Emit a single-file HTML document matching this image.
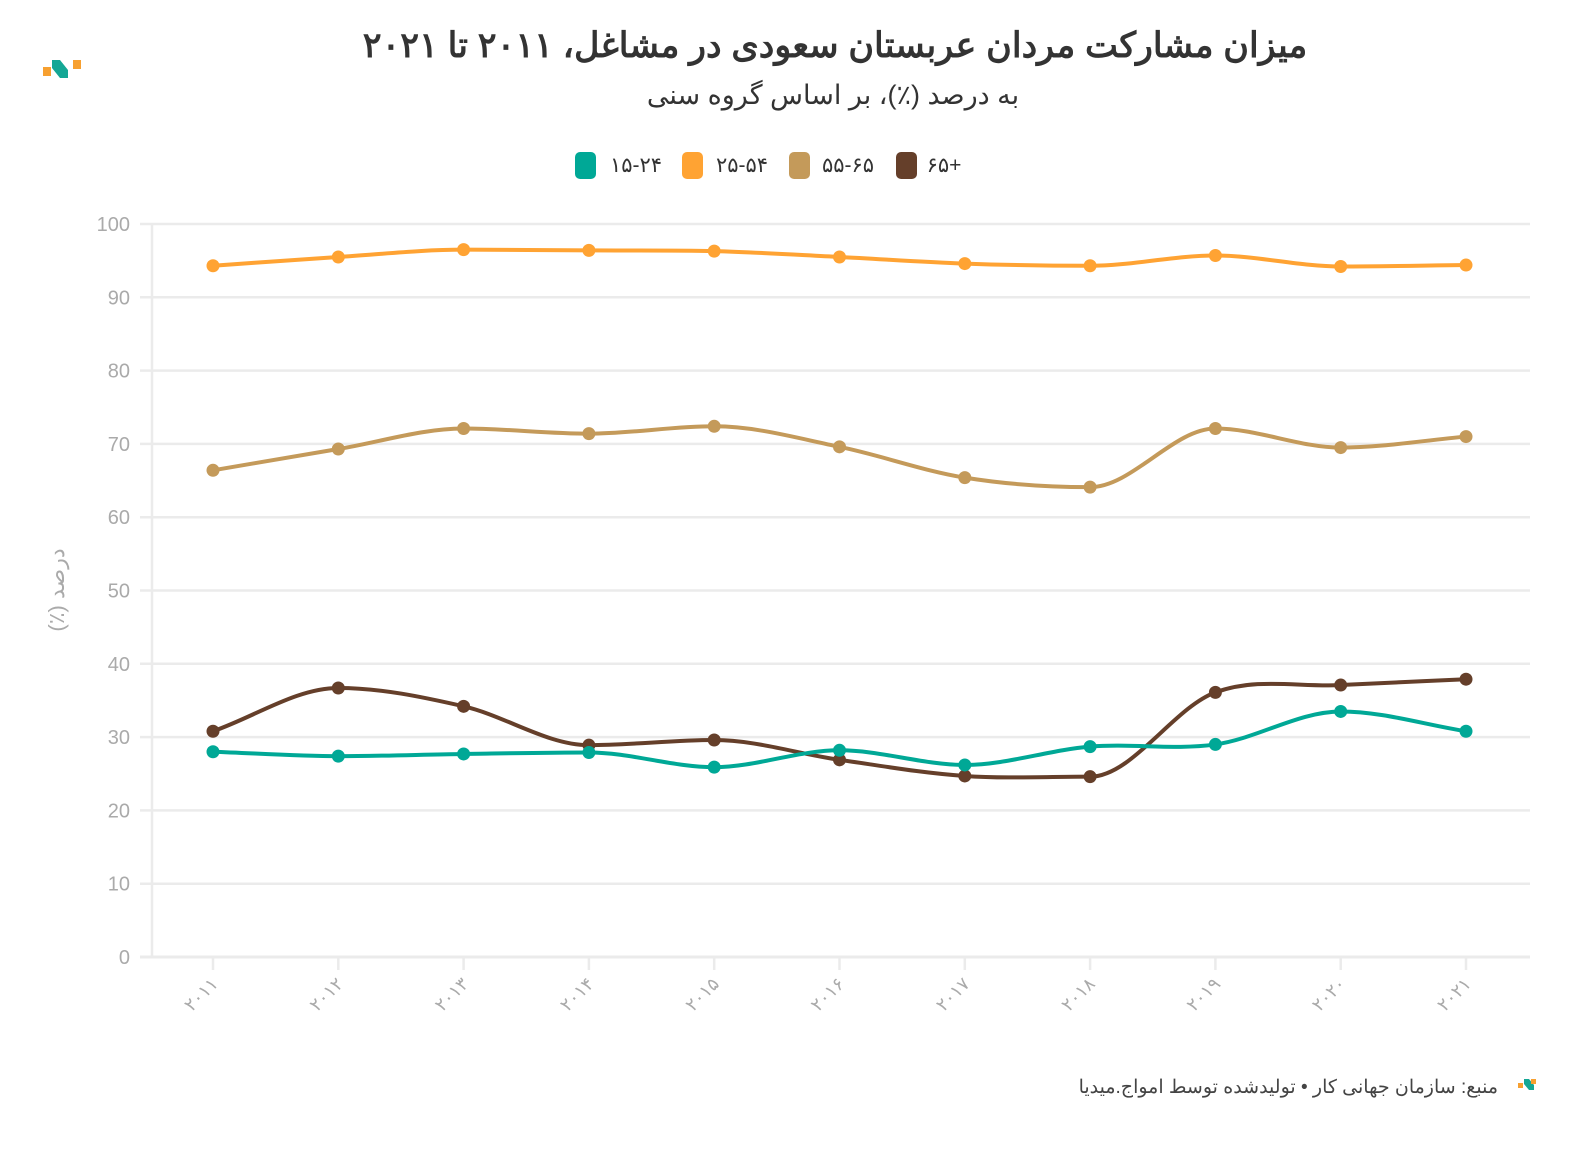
<!DOCTYPE html>
<html><head><meta charset="utf-8">
<style>
html,body{margin:0;padding:0;background:#fff;}
svg{display:block;font-family:"Liberation Sans","Noto Sans CJK SC",sans-serif;}
</style></head>
<body>
<svg id="s" width="1592" height="1150" viewBox="0 0 1592 1150" xmlns="http://www.w3.org/2000/svg">
<rect width="1592" height="1150" fill="#fff"/>
<g>
<rect x="43" y="67" width="8" height="9" fill="#f7a030"/>
<path d="M52 60 L60 60 L68 70 L68 78 L60 78 L52 68 Z" fill="#14a795"/>
<rect x="73" y="60" width="8" height="9" fill="#f7a030"/>
</g>
<text x="835" y="57" text-anchor="middle" font-size="35" font-weight="bold" fill="#333" direction="rtl">میزان مشارکت مردان عربستان سعودی در مشاغل، ۲۰۱۱ تا ۲۰۲۱</text>
<text x="833" y="104" text-anchor="middle" font-size="27" fill="#333" direction="rtl">به درصد (٪)، بر اساس گروه سنی</text>
<g font-size="21" fill="#333">
<rect x="575" y="152" width="21" height="27" rx="5" fill="#00a896"/><text x="636" y="172" text-anchor="middle">۱۵-۲۴</text>
<rect x="682" y="152" width="21" height="27" rx="5" fill="#ffa333"/><text x="742" y="172" text-anchor="middle">۲۵-۵۴</text>
<rect x="789" y="152" width="21" height="27" rx="5" fill="#c49a5a"/><text x="848" y="172" text-anchor="middle">۵۵-۶۵</text>
<rect x="896" y="152" width="21" height="27" rx="5" fill="#653f2a"/><text x="944" y="172" text-anchor="middle">۶۵+</text>
</g>
<g id="grid"></g>
<g id="series"></g>
<text transform="translate(64,590) rotate(-90)" text-anchor="middle" font-size="22" fill="#aaa" direction="rtl">درصد (٪)</text>
<text x="1498" y="1093" text-anchor="start" font-size="19" fill="#444" direction="rtl">منبع: سازمان جهانی کار • تولیدشده توسط امواج.میدیا</text>
<g>
<rect x="1518" y="1083" width="5" height="5" fill="#f7a030"/>
<path d="M1524 1079 L1529 1079 L1534 1085 L1534 1090 L1529 1090 L1524 1084 Z" fill="#14a795"/>
<rect x="1531" y="1079" width="5" height="5" fill="#f7a030"/>
</g>
</svg>
<script>
var NS="http://www.w3.org/2000/svg";
function el(t,a,p){var e=document.createElementNS(NS,t);for(var k in a)e.setAttribute(k,a[k]);p.appendChild(e);return e;}
var g=document.getElementById("grid"),s=document.getElementById("series");
function Y(v){return 957-7.33*v;}
for(var v=0;v<=100;v+=10){var y=Y(v);
 el("line",{x1:140,x2:1530,y1:y,y2:y,stroke:"#ebebeb","stroke-width":v==0?3:2.5},g);
 var t=el("text",{x:130,y:y+7,"text-anchor":"end","font-size":20,fill:"#aaa"},g);t.textContent=v;}
el("line",{x1:152,x2:152,y1:224,y2:957,stroke:"#ebebeb","stroke-width":2.5},g);
var fa="۰۱۲۳۴۵۶۷۸۹";
function X(i){return 213+125.3*i;}
for(var i=0;i<11;i++){var x=X(i);
 el("line",{x1:x,x2:x,y1:957,y2:970,stroke:"#ebebeb","stroke-width":2.5},g);
 var yr=String(2011+i).replace(/\d/g,function(d){return fa[d];});
 var t=el("text",{transform:"translate("+(x+6)+",985) rotate(-45)","text-anchor":"end","font-size":18,fill:"#aaa"},g);t.textContent=yr;}
var data=[
 ["#653f2a",[30.8,36.7,34.2,28.9,29.6,26.9,24.7,24.6,36.1,37.1,37.9]],
 ["#00a896",[28,27.4,27.7,27.9,25.9,28.2,26.2,28.7,29,33.5,30.8]],
 ["#c49a5a",[66.4,69.3,72.1,71.4,72.4,69.6,65.4,64.1,72.1,69.5,71]],
 ["#ffa333",[94.3,95.5,96.5,96.4,96.3,95.5,94.6,94.3,95.7,94.2,94.4]]
];
data.forEach(function(d){
 var p=d[1].map(function(v,i){return [X(i),Y(v)];});
 var n=p.length,m=[];
 var dl=[];for(var i=0;i<n-1;i++)dl.push((p[i+1][1]-p[i][1])/(p[i+1][0]-p[i][0]));
 for(var i=0;i<n;i++){
  if(i==0)m.push(dl[0]);else if(i==n-1)m.push(dl[n-2]);
  else m.push(dl[i-1]*dl[i]<=0?0:(dl[i-1]+dl[i])/2);}
 var str="M"+p[0][0]+","+p[0][1];
 for(var i=0;i<n-1;i++){var h=(p[i+1][0]-p[i][0])/3;
  str+=" C"+(p[i][0]+h)+","+(p[i][1]+m[i]*h)+" "+(p[i+1][0]-h)+","+(p[i+1][1]-m[i+1]*h)+" "+p[i+1][0]+","+p[i+1][1];}
 el("path",{d:str,fill:"none",stroke:d[0],"stroke-width":4,"stroke-linecap":"round"},s);
 p.forEach(function(q){el("circle",{cx:q[0],cy:q[1],r:6.5,fill:d[0]},s);});
});
</script>
</body></html>
